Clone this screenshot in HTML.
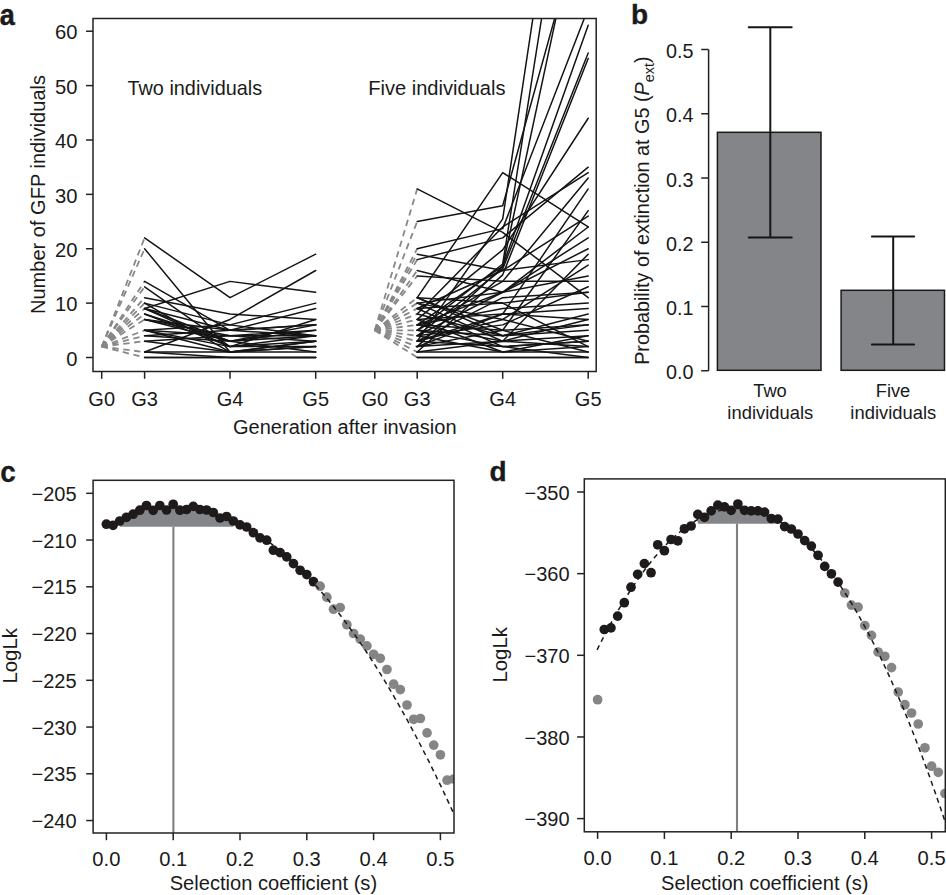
<!DOCTYPE html>
<html><head><meta charset="utf-8"><style>
html,body{margin:0;padding:0;background:#fff;}
svg{display:block;font-family:"Liberation Sans",sans-serif;}
</style></head><body>
<svg width="946" height="895" viewBox="0 0 946 895">
<rect width="946" height="895" fill="#fff"/>
<clipPath id="clipA"><rect x="93.0" y="18.5" width="503.20000000000005" height="353.0"/></clipPath>
<g clip-path="url(#clipA)">
<line x1="101.70" y1="346.62" x2="144.60" y2="237.86" stroke="#878787" stroke-width="1.8" stroke-dasharray="6.3 4.6"/>
<line x1="101.70" y1="346.62" x2="144.60" y2="248.74" stroke="#878787" stroke-width="1.8" stroke-dasharray="6.3 4.6"/>
<line x1="101.70" y1="346.62" x2="144.60" y2="281.37" stroke="#878787" stroke-width="1.8" stroke-dasharray="6.3 4.6"/>
<line x1="101.70" y1="346.62" x2="144.60" y2="286.81" stroke="#878787" stroke-width="1.8" stroke-dasharray="6.3 4.6"/>
<line x1="101.70" y1="346.62" x2="144.60" y2="297.68" stroke="#878787" stroke-width="1.8" stroke-dasharray="6.3 4.6"/>
<line x1="101.70" y1="346.62" x2="144.60" y2="303.12" stroke="#878787" stroke-width="1.8" stroke-dasharray="6.3 4.6"/>
<line x1="101.70" y1="346.62" x2="144.60" y2="308.56" stroke="#878787" stroke-width="1.8" stroke-dasharray="6.3 4.6"/>
<line x1="101.70" y1="346.62" x2="144.60" y2="314.00" stroke="#878787" stroke-width="1.8" stroke-dasharray="6.3 4.6"/>
<line x1="101.70" y1="346.62" x2="144.60" y2="319.43" stroke="#878787" stroke-width="1.8" stroke-dasharray="6.3 4.6"/>
<line x1="101.70" y1="346.62" x2="144.60" y2="330.31" stroke="#878787" stroke-width="1.8" stroke-dasharray="6.3 4.6"/>
<line x1="101.70" y1="346.62" x2="144.60" y2="335.75" stroke="#878787" stroke-width="1.8" stroke-dasharray="6.3 4.6"/>
<line x1="101.70" y1="346.62" x2="144.60" y2="341.19" stroke="#878787" stroke-width="1.8" stroke-dasharray="6.3 4.6"/>
<line x1="101.70" y1="346.62" x2="144.60" y2="352.06" stroke="#878787" stroke-width="1.8" stroke-dasharray="6.3 4.6"/>
<line x1="101.70" y1="346.62" x2="144.60" y2="357.50" stroke="#878787" stroke-width="1.8" stroke-dasharray="6.3 4.6"/>
<line x1="374.80" y1="330.31" x2="417.20" y2="221.55" stroke="#878787" stroke-width="1.8" stroke-dasharray="6.3 4.6"/>
<line x1="374.80" y1="330.31" x2="417.20" y2="248.74" stroke="#878787" stroke-width="1.8" stroke-dasharray="6.3 4.6"/>
<line x1="374.80" y1="330.31" x2="417.20" y2="341.19" stroke="#878787" stroke-width="1.8" stroke-dasharray="6.3 4.6"/>
<line x1="374.80" y1="330.31" x2="417.20" y2="330.31" stroke="#878787" stroke-width="1.8" stroke-dasharray="6.3 4.6"/>
<line x1="374.80" y1="330.31" x2="417.20" y2="346.62" stroke="#878787" stroke-width="1.8" stroke-dasharray="6.3 4.6"/>
<line x1="374.80" y1="330.31" x2="417.20" y2="324.87" stroke="#878787" stroke-width="1.8" stroke-dasharray="6.3 4.6"/>
<line x1="374.80" y1="330.31" x2="417.20" y2="335.75" stroke="#878787" stroke-width="1.8" stroke-dasharray="6.3 4.6"/>
<line x1="374.80" y1="330.31" x2="417.20" y2="352.06" stroke="#878787" stroke-width="1.8" stroke-dasharray="6.3 4.6"/>
<line x1="374.80" y1="330.31" x2="417.20" y2="319.43" stroke="#878787" stroke-width="1.8" stroke-dasharray="6.3 4.6"/>
<line x1="374.80" y1="330.31" x2="417.20" y2="308.56" stroke="#878787" stroke-width="1.8" stroke-dasharray="6.3 4.6"/>
<line x1="374.80" y1="330.31" x2="417.20" y2="314.00" stroke="#878787" stroke-width="1.8" stroke-dasharray="6.3 4.6"/>
<line x1="374.80" y1="330.31" x2="417.20" y2="297.68" stroke="#878787" stroke-width="1.8" stroke-dasharray="6.3 4.6"/>
<line x1="374.80" y1="330.31" x2="417.20" y2="188.92" stroke="#878787" stroke-width="1.8" stroke-dasharray="6.3 4.6"/>
<line x1="374.80" y1="330.31" x2="417.20" y2="303.12" stroke="#878787" stroke-width="1.8" stroke-dasharray="6.3 4.6"/>
<line x1="374.80" y1="330.31" x2="417.20" y2="254.18" stroke="#878787" stroke-width="1.8" stroke-dasharray="6.3 4.6"/>
<line x1="374.80" y1="330.31" x2="417.20" y2="259.62" stroke="#878787" stroke-width="1.8" stroke-dasharray="6.3 4.6"/>
<line x1="374.80" y1="330.31" x2="417.20" y2="270.49" stroke="#878787" stroke-width="1.8" stroke-dasharray="6.3 4.6"/>
<line x1="374.80" y1="330.31" x2="417.20" y2="275.93" stroke="#878787" stroke-width="1.8" stroke-dasharray="6.3 4.6"/>
<line x1="374.80" y1="330.31" x2="417.20" y2="357.50" stroke="#878787" stroke-width="1.8" stroke-dasharray="6.3 4.6"/>
<polyline points="144.60,237.86 230.00,297.68 315.70,254.18" fill="none" stroke="#141414" stroke-width="1.5" stroke-linejoin="round" stroke-linecap="round"/>
<polyline points="144.60,248.74 230.00,352.06 315.70,341.19" fill="none" stroke="#141414" stroke-width="1.5" stroke-linejoin="round" stroke-linecap="round"/>
<polyline points="144.60,281.37 230.00,330.31 315.70,335.75" fill="none" stroke="#141414" stroke-width="1.5" stroke-linejoin="round" stroke-linecap="round"/>
<polyline points="144.60,286.81 230.00,346.62 315.70,341.19" fill="none" stroke="#141414" stroke-width="1.5" stroke-linejoin="round" stroke-linecap="round"/>
<polyline points="144.60,297.68 230.00,314.00 315.70,319.43" fill="none" stroke="#141414" stroke-width="1.5" stroke-linejoin="round" stroke-linecap="round"/>
<polyline points="144.60,303.12 230.00,324.87 315.70,303.12" fill="none" stroke="#141414" stroke-width="1.5" stroke-linejoin="round" stroke-linecap="round"/>
<polyline points="144.60,308.56 230.00,346.62 315.70,319.43" fill="none" stroke="#141414" stroke-width="1.5" stroke-linejoin="round" stroke-linecap="round"/>
<polyline points="144.60,308.56 230.00,330.31 315.70,324.87" fill="none" stroke="#141414" stroke-width="1.5" stroke-linejoin="round" stroke-linecap="round"/>
<polyline points="144.60,314.00 230.00,346.62 315.70,335.75" fill="none" stroke="#141414" stroke-width="1.5" stroke-linejoin="round" stroke-linecap="round"/>
<polyline points="144.60,314.00 230.00,341.19 315.70,330.31" fill="none" stroke="#141414" stroke-width="1.5" stroke-linejoin="round" stroke-linecap="round"/>
<polyline points="144.60,319.43 230.00,330.31 315.70,308.56" fill="none" stroke="#141414" stroke-width="1.5" stroke-linejoin="round" stroke-linecap="round"/>
<polyline points="144.60,319.43 230.00,335.75 315.70,341.19" fill="none" stroke="#141414" stroke-width="1.5" stroke-linejoin="round" stroke-linecap="round"/>
<polyline points="144.60,319.43 230.00,341.19 315.70,324.87" fill="none" stroke="#141414" stroke-width="1.5" stroke-linejoin="round" stroke-linecap="round"/>
<polyline points="144.60,330.31 230.00,346.62 315.70,346.62" fill="none" stroke="#141414" stroke-width="1.5" stroke-linejoin="round" stroke-linecap="round"/>
<polyline points="144.60,330.31 230.00,335.75 315.70,330.31" fill="none" stroke="#141414" stroke-width="1.5" stroke-linejoin="round" stroke-linecap="round"/>
<polyline points="144.60,330.31 230.00,324.87 315.70,335.75" fill="none" stroke="#141414" stroke-width="1.5" stroke-linejoin="round" stroke-linecap="round"/>
<polyline points="144.60,330.31 230.00,352.06 315.70,341.19" fill="none" stroke="#141414" stroke-width="1.5" stroke-linejoin="round" stroke-linecap="round"/>
<polyline points="144.60,335.75 230.00,330.31 315.70,324.87" fill="none" stroke="#141414" stroke-width="1.5" stroke-linejoin="round" stroke-linecap="round"/>
<polyline points="144.60,335.75 230.00,341.19 315.70,352.06" fill="none" stroke="#141414" stroke-width="1.5" stroke-linejoin="round" stroke-linecap="round"/>
<polyline points="144.60,341.19 230.00,352.06 315.70,346.62" fill="none" stroke="#141414" stroke-width="1.5" stroke-linejoin="round" stroke-linecap="round"/>
<polyline points="144.60,341.19 230.00,335.75 315.70,335.75" fill="none" stroke="#141414" stroke-width="1.5" stroke-linejoin="round" stroke-linecap="round"/>
<polyline points="144.60,352.06 230.00,319.43 315.70,270.49" fill="none" stroke="#141414" stroke-width="1.5" stroke-linejoin="round" stroke-linecap="round"/>
<polyline points="144.60,352.06 230.00,352.06 315.70,352.06" fill="none" stroke="#141414" stroke-width="1.5" stroke-linejoin="round" stroke-linecap="round"/>
<polyline points="144.60,352.06 230.00,357.50 315.70,357.50" fill="none" stroke="#141414" stroke-width="1.5" stroke-linejoin="round" stroke-linecap="round"/>
<polyline points="144.60,357.50 230.00,357.50 315.70,357.50" fill="none" stroke="#141414" stroke-width="1.5" stroke-linejoin="round" stroke-linecap="round"/>
<polyline points="144.60,357.50 230.00,357.50 315.70,357.50" fill="none" stroke="#141414" stroke-width="1.5" stroke-linejoin="round" stroke-linecap="round"/>
<polyline points="144.60,303.12 230.00,352.06 315.70,346.62" fill="none" stroke="#141414" stroke-width="1.5" stroke-linejoin="round" stroke-linecap="round"/>
<polyline points="144.60,308.56 230.00,341.19 315.70,335.75" fill="none" stroke="#141414" stroke-width="1.5" stroke-linejoin="round" stroke-linecap="round"/>
<polyline points="144.60,308.56 230.00,281.37 315.70,292.24" fill="none" stroke="#141414" stroke-width="1.5" stroke-linejoin="round" stroke-linecap="round"/>
<polyline points="417.20,221.55 502.70,205.78 588.20,-102.55" fill="none" stroke="#141414" stroke-width="1.5" stroke-linejoin="round" stroke-linecap="round"/>
<polyline points="417.20,248.74 502.70,228.62 588.20,8.38" fill="none" stroke="#141414" stroke-width="1.5" stroke-linejoin="round" stroke-linecap="round"/>
<polyline points="417.20,341.19 502.70,218.83 588.20,-349.44" fill="none" stroke="#141414" stroke-width="1.5" stroke-linejoin="round" stroke-linecap="round"/>
<polyline points="417.20,330.31 502.70,263.97 588.20,-276.03" fill="none" stroke="#141414" stroke-width="1.5" stroke-linejoin="round" stroke-linecap="round"/>
<polyline points="417.20,346.62 502.70,266.69 588.20,-132.46" fill="none" stroke="#141414" stroke-width="1.5" stroke-linejoin="round" stroke-linecap="round"/>
<polyline points="417.20,324.87 502.70,266.14 588.20,25.24" fill="none" stroke="#141414" stroke-width="1.5" stroke-linejoin="round" stroke-linecap="round"/>
<polyline points="417.20,335.75 502.70,268.86 588.20,52.97" fill="none" stroke="#141414" stroke-width="1.5" stroke-linejoin="round" stroke-linecap="round"/>
<polyline points="417.20,352.06 502.70,274.84 588.20,58.41" fill="none" stroke="#141414" stroke-width="1.5" stroke-linejoin="round" stroke-linecap="round"/>
<polyline points="417.20,319.43 502.70,249.83 588.20,118.23" fill="none" stroke="#141414" stroke-width="1.5" stroke-linejoin="round" stroke-linecap="round"/>
<polyline points="417.20,308.56 502.70,270.49 588.20,216.11" fill="none" stroke="#141414" stroke-width="1.5" stroke-linejoin="round" stroke-linecap="round"/>
<polyline points="417.20,314.00 502.70,226.99 588.20,172.61" fill="none" stroke="#141414" stroke-width="1.5" stroke-linejoin="round" stroke-linecap="round"/>
<polyline points="417.20,330.31 502.70,281.37 588.20,178.05" fill="none" stroke="#141414" stroke-width="1.5" stroke-linejoin="round" stroke-linecap="round"/>
<polyline points="417.20,341.19 502.70,314.00 588.20,188.92" fill="none" stroke="#141414" stroke-width="1.5" stroke-linejoin="round" stroke-linecap="round"/>
<polyline points="417.20,297.68 502.70,172.61 588.20,226.99" fill="none" stroke="#141414" stroke-width="1.5" stroke-linejoin="round" stroke-linecap="round"/>
<polyline points="417.20,188.92 502.70,232.43 588.20,297.68" fill="none" stroke="#141414" stroke-width="1.5" stroke-linejoin="round" stroke-linecap="round"/>
<polyline points="417.20,303.12 502.70,292.24 588.20,226.99" fill="none" stroke="#141414" stroke-width="1.5" stroke-linejoin="round" stroke-linecap="round"/>
<polyline points="417.20,324.87 502.70,292.24 588.20,237.86" fill="none" stroke="#141414" stroke-width="1.5" stroke-linejoin="round" stroke-linecap="round"/>
<polyline points="417.20,335.75 502.70,292.24 588.20,248.74" fill="none" stroke="#141414" stroke-width="1.5" stroke-linejoin="round" stroke-linecap="round"/>
<polyline points="417.20,254.18 502.70,270.49 588.20,259.62" fill="none" stroke="#141414" stroke-width="1.5" stroke-linejoin="round" stroke-linecap="round"/>
<polyline points="417.20,259.62 502.70,237.86 588.20,167.17" fill="none" stroke="#141414" stroke-width="1.5" stroke-linejoin="round" stroke-linecap="round"/>
<polyline points="417.20,270.49 502.70,292.24 588.20,275.93" fill="none" stroke="#141414" stroke-width="1.5" stroke-linejoin="round" stroke-linecap="round"/>
<polyline points="417.20,275.93 502.70,281.37 588.20,281.37" fill="none" stroke="#141414" stroke-width="1.5" stroke-linejoin="round" stroke-linecap="round"/>
<polyline points="417.20,297.68 502.70,303.12 588.20,292.24" fill="none" stroke="#141414" stroke-width="1.5" stroke-linejoin="round" stroke-linecap="round"/>
<polyline points="417.20,297.68 502.70,335.75 588.20,324.87" fill="none" stroke="#141414" stroke-width="1.5" stroke-linejoin="round" stroke-linecap="round"/>
<polyline points="417.20,303.12 502.70,341.19 588.20,335.75" fill="none" stroke="#141414" stroke-width="1.5" stroke-linejoin="round" stroke-linecap="round"/>
<polyline points="417.20,308.56 502.70,346.62 588.20,341.19" fill="none" stroke="#141414" stroke-width="1.5" stroke-linejoin="round" stroke-linecap="round"/>
<polyline points="417.20,319.43 502.70,314.00 588.20,319.43" fill="none" stroke="#141414" stroke-width="1.5" stroke-linejoin="round" stroke-linecap="round"/>
<polyline points="417.20,324.87 502.70,330.31 588.20,324.87" fill="none" stroke="#141414" stroke-width="1.5" stroke-linejoin="round" stroke-linecap="round"/>
<polyline points="417.20,330.31 502.70,335.75 588.20,330.31" fill="none" stroke="#141414" stroke-width="1.5" stroke-linejoin="round" stroke-linecap="round"/>
<polyline points="417.20,335.75 502.70,352.06 588.20,335.75" fill="none" stroke="#141414" stroke-width="1.5" stroke-linejoin="round" stroke-linecap="round"/>
<polyline points="417.20,341.19 502.70,346.62 588.20,341.19" fill="none" stroke="#141414" stroke-width="1.5" stroke-linejoin="round" stroke-linecap="round"/>
<polyline points="417.20,346.62 502.70,341.19 588.20,346.62" fill="none" stroke="#141414" stroke-width="1.5" stroke-linejoin="round" stroke-linecap="round"/>
<polyline points="417.20,352.06 502.70,352.06 588.20,352.06" fill="none" stroke="#141414" stroke-width="1.5" stroke-linejoin="round" stroke-linecap="round"/>
<polyline points="417.20,357.50 502.70,357.50 588.20,357.50" fill="none" stroke="#141414" stroke-width="1.5" stroke-linejoin="round" stroke-linecap="round"/>
<polyline points="417.20,357.50 502.70,357.50 588.20,357.50" fill="none" stroke="#141414" stroke-width="1.5" stroke-linejoin="round" stroke-linecap="round"/>
<polyline points="417.20,303.12 502.70,319.43 588.20,341.19" fill="none" stroke="#141414" stroke-width="1.5" stroke-linejoin="round" stroke-linecap="round"/>
<polyline points="417.20,297.68 502.70,330.31 588.20,352.06" fill="none" stroke="#141414" stroke-width="1.5" stroke-linejoin="round" stroke-linecap="round"/>
<polyline points="417.20,308.56 502.70,303.12 588.20,346.62" fill="none" stroke="#141414" stroke-width="1.5" stroke-linejoin="round" stroke-linecap="round"/>
<polyline points="417.20,346.62 502.70,314.00 588.20,308.56" fill="none" stroke="#141414" stroke-width="1.5" stroke-linejoin="round" stroke-linecap="round"/>
<polyline points="417.20,352.06 502.70,341.19 588.20,319.43" fill="none" stroke="#141414" stroke-width="1.5" stroke-linejoin="round" stroke-linecap="round"/>
<polyline points="417.20,341.19 502.70,297.68 588.20,292.24" fill="none" stroke="#141414" stroke-width="1.5" stroke-linejoin="round" stroke-linecap="round"/>
<polyline points="417.20,330.31 502.70,346.62 588.20,357.50" fill="none" stroke="#141414" stroke-width="1.5" stroke-linejoin="round" stroke-linecap="round"/>
<polyline points="417.20,319.43 502.70,352.06 588.20,346.62" fill="none" stroke="#141414" stroke-width="1.5" stroke-linejoin="round" stroke-linecap="round"/>
<polyline points="417.20,335.75 502.70,324.87 588.20,286.81" fill="none" stroke="#141414" stroke-width="1.5" stroke-linejoin="round" stroke-linecap="round"/>
<polyline points="417.20,314.00 502.70,335.75 588.20,314.00" fill="none" stroke="#141414" stroke-width="1.5" stroke-linejoin="round" stroke-linecap="round"/>
<polyline points="417.20,324.87 502.70,308.56 588.20,303.12" fill="none" stroke="#141414" stroke-width="1.5" stroke-linejoin="round" stroke-linecap="round"/>
<polyline points="417.20,346.62 502.70,330.31 588.20,210.67" fill="none" stroke="#141414" stroke-width="1.5" stroke-linejoin="round" stroke-linecap="round"/>
<polyline points="417.20,324.87 502.70,341.19 588.20,254.18" fill="none" stroke="#141414" stroke-width="1.5" stroke-linejoin="round" stroke-linecap="round"/>
<polyline points="417.20,341.19 502.70,319.43 588.20,265.05" fill="none" stroke="#141414" stroke-width="1.5" stroke-linejoin="round" stroke-linecap="round"/>
</g>
<rect x="93.0" y="18.5" width="503.20000000000005" height="353.0" fill="none" stroke="#222222" stroke-width="1.5"/>
<line x1="86.00" y1="357.50" x2="93.00" y2="357.50" stroke="#222222" stroke-width="1.5" />
<text x="77.40" y="365.70" font-size="20.2" text-anchor="end" font-weight="normal" fill="#1a1a1a" >0</text>
<line x1="86.00" y1="303.12" x2="93.00" y2="303.12" stroke="#222222" stroke-width="1.5" />
<text x="77.40" y="311.32" font-size="20.2" text-anchor="end" font-weight="normal" fill="#1a1a1a" >10</text>
<line x1="86.00" y1="248.74" x2="93.00" y2="248.74" stroke="#222222" stroke-width="1.5" />
<text x="77.40" y="256.94" font-size="20.2" text-anchor="end" font-weight="normal" fill="#1a1a1a" >20</text>
<line x1="86.00" y1="194.36" x2="93.00" y2="194.36" stroke="#222222" stroke-width="1.5" />
<text x="77.40" y="202.56" font-size="20.2" text-anchor="end" font-weight="normal" fill="#1a1a1a" >30</text>
<line x1="86.00" y1="139.98" x2="93.00" y2="139.98" stroke="#222222" stroke-width="1.5" />
<text x="77.40" y="148.18" font-size="20.2" text-anchor="end" font-weight="normal" fill="#1a1a1a" >40</text>
<line x1="86.00" y1="85.60" x2="93.00" y2="85.60" stroke="#222222" stroke-width="1.5" />
<text x="77.40" y="93.80" font-size="20.2" text-anchor="end" font-weight="normal" fill="#1a1a1a" >50</text>
<line x1="86.00" y1="31.22" x2="93.00" y2="31.22" stroke="#222222" stroke-width="1.5" />
<text x="77.40" y="39.42" font-size="20.2" text-anchor="end" font-weight="normal" fill="#1a1a1a" >60</text>
<line x1="101.70" y1="371.50" x2="101.70" y2="378.80" stroke="#222222" stroke-width="1.5" />
<text x="101.70" y="405.60" font-size="20" text-anchor="middle" font-weight="normal" fill="#1a1a1a" >G0</text>
<line x1="144.60" y1="371.50" x2="144.60" y2="378.80" stroke="#222222" stroke-width="1.5" />
<text x="144.60" y="405.60" font-size="20" text-anchor="middle" font-weight="normal" fill="#1a1a1a" >G3</text>
<line x1="230.00" y1="371.50" x2="230.00" y2="378.80" stroke="#222222" stroke-width="1.5" />
<text x="230.00" y="405.60" font-size="20" text-anchor="middle" font-weight="normal" fill="#1a1a1a" >G4</text>
<line x1="315.70" y1="371.50" x2="315.70" y2="378.80" stroke="#222222" stroke-width="1.5" />
<text x="315.70" y="405.60" font-size="20" text-anchor="middle" font-weight="normal" fill="#1a1a1a" >G5</text>
<line x1="374.80" y1="371.50" x2="374.80" y2="378.80" stroke="#222222" stroke-width="1.5" />
<text x="374.80" y="405.60" font-size="20" text-anchor="middle" font-weight="normal" fill="#1a1a1a" >G0</text>
<line x1="417.20" y1="371.50" x2="417.20" y2="378.80" stroke="#222222" stroke-width="1.5" />
<text x="417.20" y="405.60" font-size="20" text-anchor="middle" font-weight="normal" fill="#1a1a1a" >G3</text>
<line x1="502.70" y1="371.50" x2="502.70" y2="378.80" stroke="#222222" stroke-width="1.5" />
<text x="502.70" y="405.60" font-size="20" text-anchor="middle" font-weight="normal" fill="#1a1a1a" >G4</text>
<line x1="588.20" y1="371.50" x2="588.20" y2="378.80" stroke="#222222" stroke-width="1.5" />
<text x="588.20" y="405.60" font-size="20" text-anchor="middle" font-weight="normal" fill="#1a1a1a" >G5</text>
<text x="344.80" y="433.80" font-size="20.0" text-anchor="middle" font-weight="normal" fill="#1a1a1a" >Generation after invasion</text>
<text x="45.00" y="194.50" font-size="20.05" text-anchor="middle" font-weight="normal" fill="#1a1a1a" transform="rotate(-90 45.0 194.5)">Number of GFP individuals</text>
<text x="127.50" y="95.00" font-size="19.85" text-anchor="start" font-weight="normal" fill="#1a1a1a" >Two individuals</text>
<text x="368.20" y="95.00" font-size="20.1" text-anchor="start" font-weight="normal" fill="#1a1a1a" >Five individuals</text>
<text x="0" y="0" font-size="30" font-weight="bold" fill="#1a1a1a" stroke="#1a1a1a" stroke-width="0.5" transform="translate(-0.2 24.6) scale(0.9 1)">a</text>
<line x1="708.60" y1="370.75" x2="708.60" y2="49.50" stroke="#222222" stroke-width="1.5" />
<line x1="701.20" y1="370.75" x2="708.60" y2="370.75" stroke="#222222" stroke-width="1.5" />
<text x="693.60" y="379.25" font-size="19.8" text-anchor="end" font-weight="normal" fill="#1a1a1a" >0.0</text>
<line x1="701.20" y1="306.50" x2="708.60" y2="306.50" stroke="#222222" stroke-width="1.5" />
<text x="693.60" y="315.00" font-size="19.8" text-anchor="end" font-weight="normal" fill="#1a1a1a" >0.1</text>
<line x1="701.20" y1="242.25" x2="708.60" y2="242.25" stroke="#222222" stroke-width="1.5" />
<text x="693.60" y="250.75" font-size="19.8" text-anchor="end" font-weight="normal" fill="#1a1a1a" >0.2</text>
<line x1="701.20" y1="178.00" x2="708.60" y2="178.00" stroke="#222222" stroke-width="1.5" />
<text x="693.60" y="186.50" font-size="19.8" text-anchor="end" font-weight="normal" fill="#1a1a1a" >0.3</text>
<line x1="701.20" y1="113.75" x2="708.60" y2="113.75" stroke="#222222" stroke-width="1.5" />
<text x="693.60" y="122.25" font-size="19.8" text-anchor="end" font-weight="normal" fill="#1a1a1a" >0.4</text>
<line x1="701.20" y1="49.50" x2="708.60" y2="49.50" stroke="#222222" stroke-width="1.5" />
<text x="693.60" y="58.00" font-size="19.8" text-anchor="end" font-weight="normal" fill="#1a1a1a" >0.5</text>
<rect x="717.4" y="132.3" width="103.60" height="238.00" fill="#848589" stroke="#1a1a1a" stroke-width="1.5"/>
<line x1="770.30" y1="237.40" x2="770.30" y2="27.20" stroke="#151515" stroke-width="2.0" />
<line x1="748.70" y1="237.40" x2="791.70" y2="237.40" stroke="#151515" stroke-width="2.0" stroke-linecap="round"/>
<line x1="748.70" y1="27.20" x2="791.70" y2="27.20" stroke="#151515" stroke-width="2.0" stroke-linecap="round"/>
<rect x="841.1" y="290.3" width="103.40" height="80.00" fill="#848589" stroke="#1a1a1a" stroke-width="1.5"/>
<line x1="893.20" y1="344.50" x2="893.20" y2="236.40" stroke="#151515" stroke-width="2.0" />
<line x1="871.90" y1="344.50" x2="914.10" y2="344.50" stroke="#151515" stroke-width="2.0" stroke-linecap="round"/>
<line x1="871.90" y1="236.40" x2="914.10" y2="236.40" stroke="#151515" stroke-width="2.0" stroke-linecap="round"/>
<text x="770.00" y="396.60" font-size="18.3" text-anchor="middle" font-weight="normal" fill="#1a1a1a" >Two</text>
<text x="770.30" y="418.70" font-size="18.4" text-anchor="middle" font-weight="normal" fill="#1a1a1a" >individuals</text>
<text x="893.00" y="396.60" font-size="18.3" text-anchor="middle" font-weight="normal" fill="#1a1a1a" >Five</text>
<text x="893.30" y="418.70" font-size="18.4" text-anchor="middle" font-weight="normal" fill="#1a1a1a" >individuals</text>
<text x="0" y="0" font-size="28" font-weight="bold" fill="#1a1a1a" stroke="#1a1a1a" stroke-width="0.35" transform="translate(631.0 24.2)">b</text>
<text x="0" y="0" font-size="19.8" fill="#1a1a1a" text-anchor="middle" transform="translate(648.6 210.6) rotate(-90)">Probability of extinction at G5 (<tspan font-style="italic">P</tspan><tspan font-size="14.5" dy="5.8">ext</tspan><tspan dy="-5.8">)</tspan></text>
<clipPath id="clipC"><rect x="93.1" y="480.3" width="360.9" height="352.7"/></clipPath>
<g clip-path="url(#clipC)">
<polygon points="119.76,526.70 119.76,521.00 126.44,517.30 133.12,514.20 139.80,510.20 146.48,505.50 153.16,510.30 159.84,505.50 166.52,510.00 173.20,504.30 179.88,510.20 186.56,509.50 193.24,506.40 199.92,509.50 206.60,510.00 213.28,512.50 219.96,518.00 226.64,516.50 233.32,521.00 233.32,526.70" fill="#85868a"/>
<line x1="173.40" y1="526.70" x2="173.40" y2="833.00" stroke="#7f7f85" stroke-width="2.1" />
<circle cx="106.40" cy="524.20" r="4.85" fill="#1f1b1b"/>
<circle cx="113.08" cy="525.30" r="4.85" fill="#1f1b1b"/>
<circle cx="119.76" cy="521.00" r="4.85" fill="#1f1b1b"/>
<circle cx="126.44" cy="517.30" r="4.85" fill="#1f1b1b"/>
<circle cx="133.12" cy="514.20" r="4.85" fill="#1f1b1b"/>
<circle cx="139.80" cy="510.20" r="4.85" fill="#1f1b1b"/>
<circle cx="146.48" cy="505.50" r="4.85" fill="#1f1b1b"/>
<circle cx="153.16" cy="510.30" r="4.85" fill="#1f1b1b"/>
<circle cx="159.84" cy="505.50" r="4.85" fill="#1f1b1b"/>
<circle cx="166.52" cy="510.00" r="4.85" fill="#1f1b1b"/>
<circle cx="173.20" cy="504.30" r="4.85" fill="#1f1b1b"/>
<circle cx="179.88" cy="510.20" r="4.85" fill="#1f1b1b"/>
<circle cx="186.56" cy="509.50" r="4.85" fill="#1f1b1b"/>
<circle cx="193.24" cy="506.40" r="4.85" fill="#1f1b1b"/>
<circle cx="199.92" cy="509.50" r="4.85" fill="#1f1b1b"/>
<circle cx="206.60" cy="510.00" r="4.85" fill="#1f1b1b"/>
<circle cx="213.28" cy="512.50" r="4.85" fill="#1f1b1b"/>
<circle cx="219.96" cy="518.00" r="4.85" fill="#1f1b1b"/>
<circle cx="226.64" cy="516.50" r="4.85" fill="#1f1b1b"/>
<circle cx="233.32" cy="521.00" r="4.85" fill="#1f1b1b"/>
<circle cx="240.00" cy="524.90" r="4.85" fill="#1f1b1b"/>
<circle cx="246.68" cy="527.00" r="4.85" fill="#1f1b1b"/>
<circle cx="253.36" cy="532.70" r="4.85" fill="#1f1b1b"/>
<circle cx="260.04" cy="537.90" r="4.85" fill="#1f1b1b"/>
<circle cx="266.72" cy="540.20" r="4.85" fill="#1f1b1b"/>
<circle cx="273.40" cy="550.20" r="4.85" fill="#1f1b1b"/>
<circle cx="280.08" cy="552.60" r="4.85" fill="#1f1b1b"/>
<circle cx="286.76" cy="556.90" r="4.85" fill="#1f1b1b"/>
<circle cx="293.44" cy="563.60" r="4.85" fill="#1f1b1b"/>
<circle cx="300.12" cy="570.30" r="4.85" fill="#1f1b1b"/>
<circle cx="306.80" cy="574.60" r="4.85" fill="#1f1b1b"/>
<circle cx="313.48" cy="581.70" r="4.85" fill="#1f1b1b"/>
<circle cx="320.16" cy="586.20" r="4.85" fill="#858587"/>
<circle cx="326.84" cy="597.20" r="4.85" fill="#858587"/>
<circle cx="333.52" cy="609.20" r="4.85" fill="#858587"/>
<circle cx="340.20" cy="607.50" r="4.85" fill="#858587"/>
<circle cx="346.88" cy="624.70" r="4.85" fill="#858587"/>
<circle cx="353.56" cy="633.50" r="4.85" fill="#858587"/>
<circle cx="360.24" cy="639.20" r="4.85" fill="#858587"/>
<circle cx="366.92" cy="645.90" r="4.85" fill="#858587"/>
<circle cx="373.60" cy="654.30" r="4.85" fill="#858587"/>
<circle cx="380.28" cy="658.30" r="4.85" fill="#858587"/>
<circle cx="386.96" cy="669.50" r="4.85" fill="#858587"/>
<circle cx="393.64" cy="684.20" r="4.85" fill="#858587"/>
<circle cx="400.32" cy="689.60" r="4.85" fill="#858587"/>
<circle cx="407.00" cy="705.00" r="4.85" fill="#858587"/>
<circle cx="413.68" cy="719.30" r="4.85" fill="#858587"/>
<circle cx="420.36" cy="718.50" r="4.85" fill="#858587"/>
<circle cx="427.04" cy="732.90" r="4.85" fill="#858587"/>
<circle cx="433.72" cy="745.10" r="4.85" fill="#858587"/>
<circle cx="440.40" cy="754.80" r="4.85" fill="#858587"/>
<circle cx="447.08" cy="780.20" r="4.85" fill="#858587"/>
<circle cx="453.76" cy="779.00" r="4.85" fill="#858587"/>
<polyline points="262.00,537.10 262.97,537.78 263.95,538.46 264.92,539.15 265.90,539.85 266.87,540.56 267.85,541.27 268.82,541.99 269.80,542.72 270.77,543.46 271.75,544.20 272.72,544.95 273.70,545.71 274.67,546.47 275.65,547.25 276.62,548.03 277.60,548.82 278.57,549.61 279.55,550.41 280.52,551.23 281.50,552.04 282.47,552.87 283.45,553.70 284.42,554.54 285.40,555.39 286.37,556.24 287.35,557.11 288.32,557.98 289.30,558.86 290.27,559.74 291.25,560.63 292.22,561.53 293.20,562.44 294.17,563.36 295.15,564.28 296.12,565.21 297.10,566.14 298.07,567.09 299.05,568.04 300.02,569.00 300.99,569.97 301.97,570.94 302.94,571.93 303.92,572.92 304.89,573.91 305.87,574.92 306.84,575.93 307.82,576.95 308.79,577.98 309.77,579.01 310.74,580.05 311.72,581.10 312.69,582.16 313.67,583.22 314.64,584.29 315.62,585.37 316.59,586.46 317.57,587.55 318.54,588.66 319.52,589.76 320.49,590.88 321.47,592.00 322.44,593.14 323.42,594.27 324.39,595.42 325.37,596.58 326.34,597.74 327.32,598.91 328.29,600.08 329.27,601.27 330.24,602.46 331.22,603.65 332.19,604.86 333.17,606.07 334.14,607.30 335.12,608.52 336.09,609.76 337.07,611.00 338.04,612.25 339.02,613.51 339.99,614.78 340.96,616.05 341.94,617.33 342.91,618.62 343.89,619.92 344.86,621.22 345.84,622.53 346.81,623.85 347.79,625.17 348.76,626.51 349.74,627.85 350.71,629.19 351.69,630.55 352.66,631.91 353.64,633.28 354.61,634.66 355.59,636.05 356.56,637.44 357.54,638.84 358.51,640.25 359.49,641.66 360.46,643.08 361.44,644.51 362.41,645.95 363.39,647.40 364.36,648.85 365.34,650.31 366.31,651.78 367.29,653.25 368.26,654.73 369.24,656.22 370.21,657.72 371.19,659.23 372.16,660.74 373.14,662.26 374.11,663.78 375.09,665.32 376.06,666.86 377.04,668.41 378.01,669.97 378.98,671.53 379.96,673.10 380.93,674.68 381.91,676.27 382.88,677.86 383.86,679.47 384.83,681.07 385.81,682.69 386.78,684.32 387.76,685.95 388.73,687.59 389.71,689.23 390.68,690.89 391.66,692.55 392.63,694.22 393.61,695.89 394.58,697.58 395.56,699.27 396.53,700.97 397.51,702.67 398.48,704.39 399.46,706.11 400.43,707.84 401.41,709.57 402.38,711.32 403.36,713.07 404.33,714.83 405.31,716.59 406.28,718.37 407.26,720.15 408.23,721.93 409.21,723.73 410.18,725.53 411.16,727.34 412.13,729.16 413.11,730.99 414.08,732.82 415.06,734.66 416.03,736.51 417.01,738.37 417.98,740.23 418.95,742.10 419.93,743.98 420.90,745.86 421.88,747.75 422.85,749.66 423.83,751.56 424.80,753.48 425.78,755.40 426.75,757.33 427.73,759.27 428.70,761.21 429.68,763.17 430.65,765.13 431.63,767.09 432.60,769.07 433.58,771.05 434.55,773.04 435.53,775.04 436.50,777.04 437.48,779.06 438.45,781.08 439.43,783.10 440.40,785.14 441.38,787.18 442.35,789.23 443.33,791.29 444.30,793.35 445.28,795.42 446.25,797.50 447.23,799.59 448.20,801.68 449.18,803.79 450.15,805.89 451.13,808.01 452.10,810.14 453.08,812.27 454.05,814.41 455.03,816.55 456.00,818.71" fill="none" stroke="#1a1a1a" stroke-width="1.5" stroke-dasharray="5 4"/>
</g>
<rect x="93.1" y="480.3" width="360.9" height="352.7" fill="none" stroke="#222222" stroke-width="1.5"/>
<line x1="106.40" y1="833.00" x2="106.40" y2="840.20" stroke="#222222" stroke-width="1.5" />
<text x="106.40" y="866.00" font-size="20.2" text-anchor="middle" font-weight="normal" fill="#1a1a1a" >0.0</text>
<line x1="173.20" y1="833.00" x2="173.20" y2="840.20" stroke="#222222" stroke-width="1.5" />
<text x="173.20" y="866.00" font-size="20.2" text-anchor="middle" font-weight="normal" fill="#1a1a1a" >0.1</text>
<line x1="240.00" y1="833.00" x2="240.00" y2="840.20" stroke="#222222" stroke-width="1.5" />
<text x="240.00" y="866.00" font-size="20.2" text-anchor="middle" font-weight="normal" fill="#1a1a1a" >0.2</text>
<line x1="306.80" y1="833.00" x2="306.80" y2="840.20" stroke="#222222" stroke-width="1.5" />
<text x="306.80" y="866.00" font-size="20.2" text-anchor="middle" font-weight="normal" fill="#1a1a1a" >0.3</text>
<line x1="373.60" y1="833.00" x2="373.60" y2="840.20" stroke="#222222" stroke-width="1.5" />
<text x="373.60" y="866.00" font-size="20.2" text-anchor="middle" font-weight="normal" fill="#1a1a1a" >0.4</text>
<line x1="440.40" y1="833.00" x2="440.40" y2="840.20" stroke="#222222" stroke-width="1.5" />
<text x="440.40" y="866.00" font-size="20.2" text-anchor="middle" font-weight="normal" fill="#1a1a1a" >0.5</text>
<line x1="86.20" y1="493.30" x2="93.10" y2="493.30" stroke="#222222" stroke-width="1.5" />
<text x="76.60" y="500.90" font-size="20.0" text-anchor="end" font-weight="normal" fill="#1a1a1a" >−205</text>
<line x1="86.20" y1="540.05" x2="93.10" y2="540.05" stroke="#222222" stroke-width="1.5" />
<text x="76.60" y="547.65" font-size="20.0" text-anchor="end" font-weight="normal" fill="#1a1a1a" >−210</text>
<line x1="86.20" y1="586.80" x2="93.10" y2="586.80" stroke="#222222" stroke-width="1.5" />
<text x="76.60" y="594.40" font-size="20.0" text-anchor="end" font-weight="normal" fill="#1a1a1a" >−215</text>
<line x1="86.20" y1="633.55" x2="93.10" y2="633.55" stroke="#222222" stroke-width="1.5" />
<text x="76.60" y="641.15" font-size="20.0" text-anchor="end" font-weight="normal" fill="#1a1a1a" >−220</text>
<line x1="86.20" y1="680.30" x2="93.10" y2="680.30" stroke="#222222" stroke-width="1.5" />
<text x="76.60" y="687.90" font-size="20.0" text-anchor="end" font-weight="normal" fill="#1a1a1a" >−225</text>
<line x1="86.20" y1="727.05" x2="93.10" y2="727.05" stroke="#222222" stroke-width="1.5" />
<text x="76.60" y="734.65" font-size="20.0" text-anchor="end" font-weight="normal" fill="#1a1a1a" >−230</text>
<line x1="86.20" y1="773.80" x2="93.10" y2="773.80" stroke="#222222" stroke-width="1.5" />
<text x="76.60" y="781.40" font-size="20.0" text-anchor="end" font-weight="normal" fill="#1a1a1a" >−235</text>
<line x1="86.20" y1="820.55" x2="93.10" y2="820.55" stroke="#222222" stroke-width="1.5" />
<text x="76.60" y="828.15" font-size="20.0" text-anchor="end" font-weight="normal" fill="#1a1a1a" >−240</text>
<text x="273.40" y="890.20" font-size="20.1" text-anchor="middle" font-weight="normal" fill="#1a1a1a" >Selection coefficient (s)</text>
<text x="17.20" y="655.80" font-size="20.4" text-anchor="middle" font-weight="normal" fill="#1a1a1a" transform="rotate(-90 17.2 655.8)">LogLk</text>
<text x="0" y="0" font-size="30" font-weight="bold" fill="#1a1a1a" stroke="#1a1a1a" stroke-width="0.3" transform="translate(0.2 481.8) scale(0.93 1)">c</text>
<clipPath id="clipD"><rect x="584.3" y="478.9" width="361.0" height="352.9"/></clipPath>
<g clip-path="url(#clipD)">
<polygon points="697.80,523.70 697.80,514.40 704.48,517.30 711.16,510.90 717.84,505.10 724.52,506.90 731.20,510.30 737.88,504.00 744.56,510.30 751.24,510.90 757.92,510.90 764.60,512.10 771.28,518.50 777.96,519.10 777.96,523.70" fill="#85868a"/>
<line x1="737.00" y1="523.70" x2="737.00" y2="831.80" stroke="#7f7f85" stroke-width="2.1" />
<circle cx="597.60" cy="699.70" r="4.85" fill="#858587"/>
<circle cx="604.28" cy="629.50" r="4.85" fill="#1f1b1b"/>
<circle cx="610.96" cy="627.90" r="4.85" fill="#1f1b1b"/>
<circle cx="617.64" cy="616.10" r="4.85" fill="#1f1b1b"/>
<circle cx="624.32" cy="602.70" r="4.85" fill="#1f1b1b"/>
<circle cx="631.00" cy="587.20" r="4.85" fill="#1f1b1b"/>
<circle cx="637.68" cy="574.30" r="4.85" fill="#1f1b1b"/>
<circle cx="644.36" cy="563.60" r="4.85" fill="#1f1b1b"/>
<circle cx="651.04" cy="572.70" r="4.85" fill="#1f1b1b"/>
<circle cx="657.72" cy="544.80" r="4.85" fill="#1f1b1b"/>
<circle cx="664.40" cy="550.70" r="4.85" fill="#1f1b1b"/>
<circle cx="671.08" cy="539.50" r="4.85" fill="#1f1b1b"/>
<circle cx="677.76" cy="540.80" r="4.85" fill="#1f1b1b"/>
<circle cx="684.44" cy="528.80" r="4.85" fill="#1f1b1b"/>
<circle cx="691.12" cy="526.00" r="4.85" fill="#1f1b1b"/>
<circle cx="697.80" cy="514.40" r="4.85" fill="#1f1b1b"/>
<circle cx="704.48" cy="517.30" r="4.85" fill="#1f1b1b"/>
<circle cx="711.16" cy="510.90" r="4.85" fill="#1f1b1b"/>
<circle cx="717.84" cy="505.10" r="4.85" fill="#1f1b1b"/>
<circle cx="724.52" cy="506.90" r="4.85" fill="#1f1b1b"/>
<circle cx="731.20" cy="510.30" r="4.85" fill="#1f1b1b"/>
<circle cx="737.88" cy="504.00" r="4.85" fill="#1f1b1b"/>
<circle cx="744.56" cy="510.30" r="4.85" fill="#1f1b1b"/>
<circle cx="751.24" cy="510.90" r="4.85" fill="#1f1b1b"/>
<circle cx="757.92" cy="510.90" r="4.85" fill="#1f1b1b"/>
<circle cx="764.60" cy="512.10" r="4.85" fill="#1f1b1b"/>
<circle cx="771.28" cy="518.50" r="4.85" fill="#1f1b1b"/>
<circle cx="777.96" cy="519.10" r="4.85" fill="#1f1b1b"/>
<circle cx="784.64" cy="526.60" r="4.85" fill="#1f1b1b"/>
<circle cx="791.32" cy="529.00" r="4.85" fill="#1f1b1b"/>
<circle cx="798.00" cy="534.00" r="4.85" fill="#1f1b1b"/>
<circle cx="804.68" cy="540.60" r="4.85" fill="#1f1b1b"/>
<circle cx="811.36" cy="546.10" r="4.85" fill="#1f1b1b"/>
<circle cx="818.04" cy="555.30" r="4.85" fill="#1f1b1b"/>
<circle cx="824.72" cy="566.40" r="4.85" fill="#1f1b1b"/>
<circle cx="831.40" cy="573.80" r="4.85" fill="#1f1b1b"/>
<circle cx="838.08" cy="582.10" r="4.85" fill="#1f1b1b"/>
<circle cx="844.76" cy="593.00" r="4.85" fill="#858587"/>
<circle cx="851.44" cy="605.10" r="4.85" fill="#858587"/>
<circle cx="858.12" cy="607.10" r="4.85" fill="#858587"/>
<circle cx="864.80" cy="625.60" r="4.85" fill="#858587"/>
<circle cx="871.48" cy="635.40" r="4.85" fill="#858587"/>
<circle cx="878.16" cy="652.00" r="4.85" fill="#858587"/>
<circle cx="884.84" cy="656.30" r="4.85" fill="#858587"/>
<circle cx="891.52" cy="667.60" r="4.85" fill="#858587"/>
<circle cx="898.20" cy="692.10" r="4.85" fill="#858587"/>
<circle cx="904.88" cy="704.70" r="4.85" fill="#858587"/>
<circle cx="911.56" cy="713.00" r="4.85" fill="#858587"/>
<circle cx="918.24" cy="724.00" r="4.85" fill="#858587"/>
<circle cx="924.92" cy="747.80" r="4.85" fill="#858587"/>
<circle cx="931.60" cy="766.20" r="4.85" fill="#858587"/>
<circle cx="938.28" cy="772.30" r="4.85" fill="#858587"/>
<circle cx="944.96" cy="793.50" r="4.85" fill="#858587"/>
<polyline points="597.10,649.81 598.86,646.27 600.62,642.78 602.38,639.33 604.14,635.93 605.90,632.58 607.66,629.26 609.42,626.00 611.18,622.77 612.94,619.60 614.70,616.46 616.46,613.37 618.22,610.33 619.98,607.33 621.74,604.38 623.50,601.47 625.26,598.60 627.02,595.79 628.78,593.01 630.54,590.28 632.30,587.60 634.06,584.95 635.82,582.36 637.58,579.81 639.34,577.30 641.09,574.84 642.85,572.42 644.61,570.05 646.37,567.73 648.13,565.44 649.89,563.21 651.65,561.01 653.41,558.87 655.17,556.76 656.93,554.70 658.69,552.69 660.45,550.72 662.21,548.80 663.97,546.92 665.73,545.09 667.49,543.30 669.25,541.55 671.01,539.85 672.77,538.20 674.53,536.59 676.29,535.02 678.05,533.50 679.81,532.02 681.57,530.59 683.33,529.20 685.09,527.86 686.85,526.57 688.61,525.31 690.37,524.11 692.13,522.94 693.89,521.83 695.65,520.75 697.41,519.73 699.17,518.74 700.93,517.80 702.69,516.91 704.45,516.06 706.21,515.26 707.97,514.50 709.73,513.78 711.49,513.11 713.25,512.49 715.01,511.91 716.77,511.37 718.53,510.88 720.29,510.43 722.05,510.03 723.81,509.68 725.57,509.36 727.33,509.10 729.08,508.87 730.84,508.70 732.60,508.56 734.36,508.48 736.12,508.43 737.88,508.44 739.64,508.48 741.40,508.57 743.16,508.71 744.92,508.89 746.68,509.12 748.44,509.39 750.20,509.70 751.96,510.06 753.72,510.47 755.48,510.92 757.24,511.41 759.00,511.95 760.76,512.53 762.52,513.16 764.28,513.84 766.04,514.55 767.80,515.32 769.56,516.12 771.32,516.98 773.08,517.87 774.84,518.82 776.60,519.80 778.36,520.84 780.12,521.91 781.88,523.03 783.64,524.20 785.40,525.41 787.16,526.67 788.92,527.97 790.68,529.31 792.44,530.70 794.20,532.14 795.96,533.62 797.72,535.14 799.48,536.71 801.24,538.32 803.00,539.98 804.76,541.69 806.52,543.43 808.28,545.23 810.04,547.06 811.80,548.95 813.56,550.87 815.32,552.85 817.07,554.86 818.83,556.93 820.59,559.03 822.35,561.18 824.11,563.38 825.87,565.62 827.63,567.91 829.39,570.24 831.15,572.61 832.91,575.03 834.67,577.50 836.43,580.01 838.19,582.56 839.95,585.16 841.71,587.80 843.47,590.49 845.23,593.23 846.99,596.00 848.75,598.83 850.51,601.70 852.27,604.61 854.03,607.57 855.79,610.57 857.55,613.61 859.31,616.71 861.07,619.84 862.83,623.02 864.59,626.25 866.35,629.52 868.11,632.84 869.87,636.20 871.63,639.60 873.39,643.05 875.15,646.55 876.91,650.09 878.67,653.67 880.43,657.30 882.19,660.97 883.95,664.69 885.71,668.46 887.47,672.26 889.23,676.12 890.99,680.02 892.75,683.96 894.51,687.95 896.27,691.98 898.03,696.05 899.79,700.18 901.55,704.34 903.31,708.55 905.06,712.81 906.82,717.11 908.58,721.46 910.34,725.85 912.10,730.28 913.86,734.76 915.62,739.29 917.38,743.86 919.14,748.47 920.90,753.13 922.66,757.83 924.42,762.58 926.18,767.38 927.94,772.21 929.70,777.10 931.46,782.03 933.22,787.00 934.98,792.02 936.74,797.08 938.50,802.18 940.26,807.34 942.02,812.53 943.78,817.77 945.54,823.06 947.30,828.39" fill="none" stroke="#1a1a1a" stroke-width="1.5" stroke-dasharray="5 4"/>
</g>
<rect x="584.3" y="478.9" width="361.0" height="352.9" fill="none" stroke="#222222" stroke-width="1.5"/>
<line x1="597.60" y1="831.80" x2="597.60" y2="838.90" stroke="#222222" stroke-width="1.5" />
<text x="597.60" y="864.60" font-size="20.2" text-anchor="middle" font-weight="normal" fill="#1a1a1a" >0.0</text>
<line x1="664.40" y1="831.80" x2="664.40" y2="838.90" stroke="#222222" stroke-width="1.5" />
<text x="664.40" y="864.60" font-size="20.2" text-anchor="middle" font-weight="normal" fill="#1a1a1a" >0.1</text>
<line x1="731.20" y1="831.80" x2="731.20" y2="838.90" stroke="#222222" stroke-width="1.5" />
<text x="731.20" y="864.60" font-size="20.2" text-anchor="middle" font-weight="normal" fill="#1a1a1a" >0.2</text>
<line x1="798.00" y1="831.80" x2="798.00" y2="838.90" stroke="#222222" stroke-width="1.5" />
<text x="798.00" y="864.60" font-size="20.2" text-anchor="middle" font-weight="normal" fill="#1a1a1a" >0.3</text>
<line x1="864.80" y1="831.80" x2="864.80" y2="838.90" stroke="#222222" stroke-width="1.5" />
<text x="864.80" y="864.60" font-size="20.2" text-anchor="middle" font-weight="normal" fill="#1a1a1a" >0.4</text>
<line x1="931.60" y1="831.80" x2="931.60" y2="838.90" stroke="#222222" stroke-width="1.5" />
<text x="931.60" y="864.60" font-size="20.2" text-anchor="middle" font-weight="normal" fill="#1a1a1a" >0.5</text>
<line x1="577.10" y1="492.00" x2="584.30" y2="492.00" stroke="#222222" stroke-width="1.5" />
<text x="569.60" y="499.60" font-size="20.0" text-anchor="end" font-weight="normal" fill="#1a1a1a" >−350</text>
<line x1="577.10" y1="573.65" x2="584.30" y2="573.65" stroke="#222222" stroke-width="1.5" />
<text x="569.60" y="581.25" font-size="20.0" text-anchor="end" font-weight="normal" fill="#1a1a1a" >−360</text>
<line x1="577.10" y1="655.30" x2="584.30" y2="655.30" stroke="#222222" stroke-width="1.5" />
<text x="569.60" y="662.90" font-size="20.0" text-anchor="end" font-weight="normal" fill="#1a1a1a" >−370</text>
<line x1="577.10" y1="736.95" x2="584.30" y2="736.95" stroke="#222222" stroke-width="1.5" />
<text x="569.60" y="744.55" font-size="20.0" text-anchor="end" font-weight="normal" fill="#1a1a1a" >−380</text>
<line x1="577.10" y1="818.60" x2="584.30" y2="818.60" stroke="#222222" stroke-width="1.5" />
<text x="569.60" y="826.20" font-size="20.0" text-anchor="end" font-weight="normal" fill="#1a1a1a" >−390</text>
<text x="764.80" y="889.80" font-size="20.1" text-anchor="middle" font-weight="normal" fill="#1a1a1a" >Selection coefficient (s)</text>
<text x="507.40" y="654.80" font-size="20.4" text-anchor="middle" font-weight="normal" fill="#1a1a1a" transform="rotate(-90 507.4 654.8)">LogLk</text>
<text x="0" y="0" font-size="28" font-weight="bold" fill="#1a1a1a" stroke="#1a1a1a" stroke-width="0.35" transform="translate(489.4 480.6)">d</text>
</svg></body></html>
